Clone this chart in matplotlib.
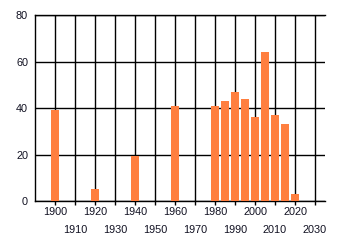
import matplotlib
matplotlib.use("Agg")
import matplotlib.pyplot as plt

years = [1900, 1920, 1940, 1960, 1980, 1985, 1990, 1995, 2000, 2005, 2010, 2015, 2020]
values = [39, 5, 19.5, 41, 41, 43, 47, 44, 36, 64, 37, 33, 3]
major_ticks = [1900, 1920, 1940, 1960, 1980, 2000, 2020]
minor_ticks = [1910, 1930, 1950, 1970, 1990, 2010, 2030]
y_ticks = [0, 20, 40, 60, 80]

plt.rcParams['font.family'] = ['Liberation Sans', 'DejaVu Sans']
fig = plt.figure(figsize=(3.4, 2.45), dpi=100)
ax = fig.add_axes([35/340, 44/245, 290/340, 186/245])

ax.bar(years, values, width=4, color='#FF7F3F', zorder=3)

ax.set_xlim(1890, 2035)
ax.set_ylim(0, 80)
ax.set_yticks(y_ticks)
ax.set_xticks(major_ticks)
ax.set_xticks(minor_ticks, minor=True)
ax.set_xticklabels([str(t) for t in major_ticks])
ax.set_xticklabels([str(t) for t in minor_ticks], minor=True)

ax.grid(True, which='both', color='black', linewidth=1, zorder=1)
ax.spines['right'].set_visible(False)
for s in ['left', 'top', 'bottom']:
    ax.spines[s].set_color('black')
    ax.spines[s].set_linewidth(1)

ax.tick_params(axis='y', length=0, pad=5, labelsize=7.8, colors='#111122')
ax.tick_params(axis='x', which='major', length=3, width=1, pad=1.5, labelsize=7.8, colors='black', labelcolor='#111122')
ax.tick_params(axis='x', which='minor', length=3, width=1, pad=14, labelsize=7.8, colors='black', labelcolor='#111122')

fig.savefig('out.png', dpi=100)
